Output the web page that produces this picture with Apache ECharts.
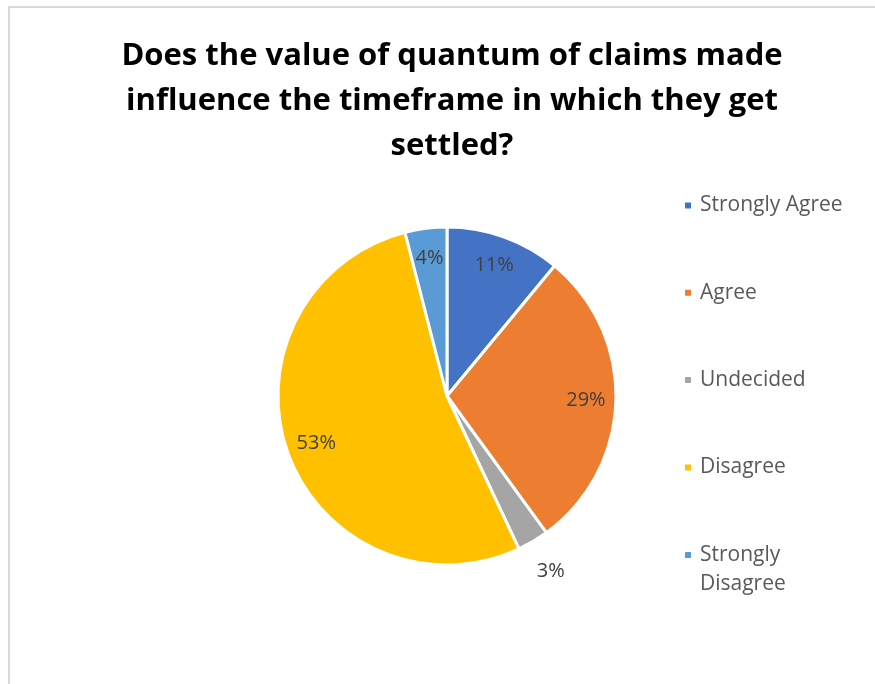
<!DOCTYPE html>
<html>
<head>
<meta charset="utf-8">
<title>Quantum of claims and settlement timeframe</title>
<script src="https://cdn.jsdelivr.net/npm/echarts@6/dist/echarts.min.js"></script>
<style>
  html, body { margin: 0; padding: 0; background: #ffffff; }
  #chart { width: 875px; height: 684px; }
</style>
</head>
<body>
<div id="chart"></div>
<script>
// Survey responses (percent of respondents)
const categories = ['Strongly Agree', 'Agree', 'Undecided', 'Disagree', 'Strongly Disagree'];
const shares = [11, 29, 3, 53, 4];
const palette = ['#4472C4', '#ED7D31', '#A5A5A5', '#FFC000', '#5B9BD5'];
const titleText = 'Does the value of quantum of claims made\ninfluence the timeframe in which they get\nsettled?';

// Slices too thin to hold their own label get it just outside the pie
const outsideLabelled = ['Undecided'];

const FONT = '"Open Sans", "Noto Sans", sans-serif';
const CENTER = [447, 396];
const R = 169;
const LABEL_SIZE = 20;
const LEGEND_SIZE = 21;
const LEGEND_LINE = 29;

const sliceData = categories.map((name, i) => ({
  name,
  value: shares[i],
  itemStyle: { color: palette[i] }
}));

const pctLabel = p => p.value + '%';

// Invisible ring whose mid radius carries the inner labels
const innerLabelData = categories.map((name, i) => ({
  name,
  value: shares[i],
  label: { show: !outsideLabelled.includes(name) }
}));

// Invisible ring just beyond the rim for the outside labels
const outerLabelData = categories.map((name, i) => ({
  name,
  value: shares[i],
  label: { show: outsideLabelled.includes(name) }
}));

const labelRing = (name, radius, data) => ({
  name,
  type: 'pie',
  center: CENTER,
  radius,
  startAngle: 90,
  clockwise: true,
  silent: true,
  avoidLabelOverlap: false,
  legendHoverLink: false,
  data,
  itemStyle: { color: 'rgba(0,0,0,0)', borderWidth: 0 },
  label: {
    position: 'inside',
    formatter: pctLabel,
    fontFamily: FONT,
    fontSize: LABEL_SIZE,
    color: '#404040'
  },
  labelLine: { show: false },
  emphasis: { disabled: true }
});

const legendBase = {
  orient: 'vertical',
  left: 683,
  padding: 0,
  icon: 'rect',
  itemWidth: 8,
  itemHeight: 8,
  selectedMode: false,
  textStyle: {
    fontFamily: FONT,
    fontSize: LEGEND_SIZE,
    lineHeight: LEGEND_LINE,
    color: '#595959',
    padding: [0, 0, 0, 3]
  }
};

const chart = echarts.init(document.getElementById('chart'), null, { renderer: 'canvas' });
chart.setOption({
  backgroundColor: '#ffffff',
  animation: false,
  title: {
    text: titleText,
    left: 447,
    top: 29,
    textAlign: 'center',
    textStyle: {
      fontFamily: FONT,
      fontWeight: 'bold',
      fontSize: 31,
      lineHeight: 45,
      color: '#000000'
    }
  },
  graphic: [{
    type: 'rect',
    silent: true,
    shape: { x: 9, y: 7, width: 900, height: 720 },
    style: { fill: 'none', stroke: '#D9D9D9', lineWidth: 2 }
  }],
  legend: [
    Object.assign({}, legendBase, {
      top: 191,
      itemGap: 58.3,
      data: categories.slice(0, 4)
    }),
    // Wrapped entry: a leading blank line keeps the marker level with its first line
    Object.assign({}, legendBase, {
      top: 555 - 1.5 * LEGEND_LINE,
      data: categories.slice(4),
      formatter: name => '\n' + name.replace(' ', '\n')
    })
  ],
  series: [{
    name: 'Responses',
    type: 'pie',
    center: CENTER,
    radius: [0, R],
    startAngle: 90,
    clockwise: true,
    avoidLabelOverlap: false,
    data: sliceData,
    itemStyle: { borderColor: '#ffffff', borderWidth: 3 },
    label: { show: false },
    labelLine: { show: false },
    emphasis: { disabled: true }
  },
  labelRing('Inner labels', [103, R], innerLabelData),
  labelRing('Outer labels', [190, 212], outerLabelData)
  ]
});
</script>
</body>
</html>
